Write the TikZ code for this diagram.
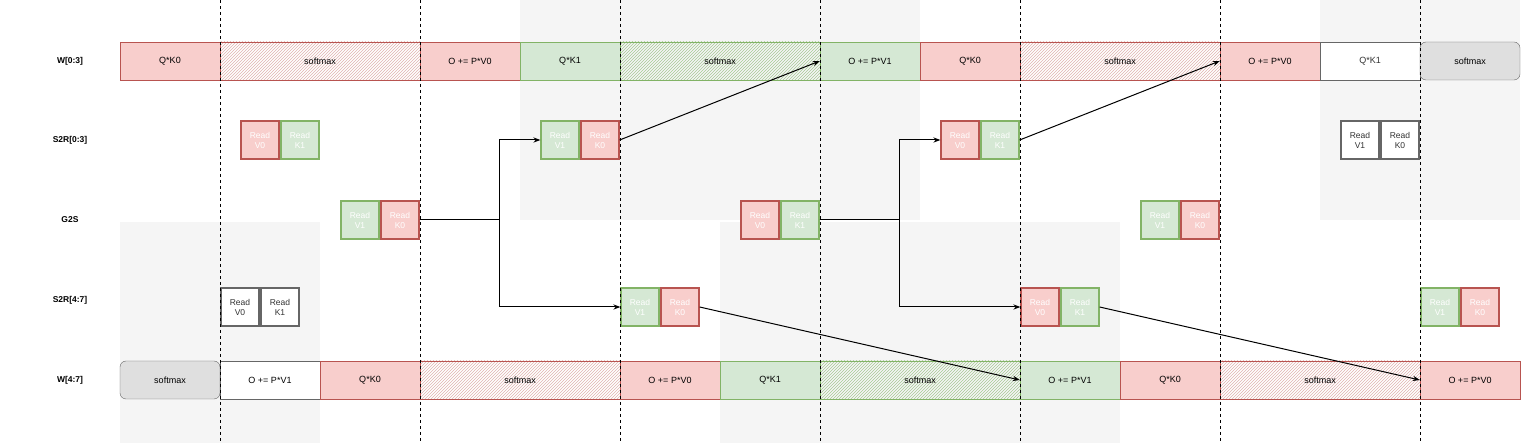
\documentclass[tikz,border=0pt]{standalone}
\usepackage{fontspec}
\setmainfont{Liberation Sans}
\usetikzlibrary{patterns,arrows.meta}
\definecolor{rf}{HTML}{F8CECC}\definecolor{rs}{HTML}{B85450}
\definecolor{gf}{HTML}{D5E8D4}\definecolor{gs}{HTML}{82B366}
\definecolor{bgs}{HTML}{F5F5F5}\definecolor{gys}{HTML}{666666}
\begin{document}
\begin{tikzpicture}[x=1pt,y=-1pt,font=\fontsize{9}{10.5}\selectfont,
 seg/.style={draw,minimum height=38pt,inner sep=0pt,text=black},
 red/.style={seg,fill=rf,draw=rs,minimum width=100pt},
 grn/.style={seg,fill=gf,draw=gs,minimum width=100pt},
 wht/.style={seg,fill=white,draw=gys,minimum width=100pt},
 hr/.style={seg,draw=rs,minimum width=200pt,pattern=north east lines,pattern color=rs!45},
 hg/.style={seg,draw=gs,minimum width=200pt,pattern=north east lines,pattern color=gs!70},
 hw/.style={seg,draw=gys,minimum width=100pt,rounded corners=6pt,fill=gray!25},
 sb/.style={draw,line width=1.3pt,minimum size=38pt,inner sep=0pt,align=center,text=white,font=\fontsize{8.5}{10}\selectfont},
 sr/.style={sb,fill=rf,draw=rs},
 sg/.style={sb,fill=gf,draw=gs},
 sw/.style={sb,fill=white,draw=gys,text=black!80},
 lab/.style={font=\fontsize{8.5}{10}\selectfont\bfseries},
 arr/.style={-{Stealth[length=7pt]},line width=1pt}]
\useasboundingbox (0,0) rectangle (1527,443);
% gray backgrounds
\fill[bgs] (520,0) rectangle (920,220);
\fill[bgs] (1320,0) rectangle (1520,220);
\fill[bgs] (120,222) rectangle (320,443);
\fill[bgs] (720,222) rectangle (1120,443);
% labels
\node[lab] (l1) at (70,61) {W[0:3]};
\node[lab] (l2) at (70,140) {S2R[0:3]};
\node[lab] (l3) at (70,220) {G2S};
\node[lab] (l4) at (70,300) {S2R[4:7]};
\node[lab] (l5) at (70,380) {W[4:7]};
% top row
\node[red] (t1) at (170,61) {Q*K0};
\node[hr] (t2) at (320,61) {softmax};
\node[red] (t3) at (470,61) {O += P*V0};
\node[grn] (t4) at (570,61) {Q*K1};
\node[hg] (t5) at (720,61) {softmax};
\node[grn] (t6) at (870,61) {O += P*V1};
\node[red] (t7) at (970,61) {Q*K0};
\node[hr] (t8) at (1120,61) {softmax};
\node[red] (t9) at (1270,61) {O += P*V0};
\node[wht,text=black!80] (t10) at (1370,61) {Q*K1};
\node[hw] (t11) at (1470,61) {softmax};
% bottom row
\node[hw] (b1) at (170,380) {softmax};
\node[wht] (b2) at (270,380) {O += P*V1};
\node[red] (b3) at (370,380) {Q*K0};
\node[hr] (b4) at (520,380) {softmax};
\node[red] (b5) at (670,380) {O += P*V0};
\node[grn] (b6) at (770,380) {Q*K1};
\node[hg] (b7) at (920,380) {softmax};
\node[grn] (b8) at (1070,380) {O += P*V1};
\node[red] (b9) at (1170,380) {Q*K0};
\node[hr] (b10) at (1320,380) {softmax};
\node[red] (b11) at (1470,380) {O += P*V0};
% S2R[0:3]
\node[sr] (a1v) at (260,140) {Read\\V0};
\node[sg] (a1k) at (300,140) {Read\\K1};
\node[sg] (a2v) at (560,140) {Read\\V1};
\node[sr] (a2k) at (600,140) {Read\\K0};
\node[sr] (a3v) at (960,140) {Read\\V0};
\node[sg] (a3k) at (1000,140) {Read\\K1};
\node[sw] (a4v) at (1360,140) {Read\\V1};
\node[sw] (a4k) at (1400,140) {Read\\K0};
% G2S
\node[sg] (g1v) at (360,220) {Read\\V1};
\node[sr] (g1k) at (400,220) {Read\\K0};
\node[sr] (g2v) at (760,220) {Read\\V0};
\node[sg] (g2k) at (800,220) {Read\\K1};
\node[sg] (g3v) at (1160,220) {Read\\V1};
\node[sr] (g3k) at (1200,220) {Read\\K0};
% S2R[4:7]
\node[sw] (c1v) at (240,307) {Read\\V0};
\node[sw] (c1k) at (280,307) {Read\\K1};
\node[sg] (c2v) at (640,307) {Read\\V1};
\node[sr] (c2k) at (680,307) {Read\\K0};
\node[sr] (c3v) at (1040,307) {Read\\V0};
\node[sg] (c3k) at (1080,307) {Read\\K1};
\node[sg] (c4v) at (1440,307) {Read\\V1};
\node[sr] (c4k) at (1480,307) {Read\\K0};
% dashed lines
\foreach \x in {220,420,620,820,1020,1220,1420}
  \draw[dashed,line width=1pt] (\x,0) -- (\x,443);
% arrows
\draw[arr] (g1k.east) -- ++(80,0) |- (a2v.west);
\draw[arr] (g1k.east) -- ++(80,0) |- (c2v.west);
\draw[arr] (g2k.east) -- ++(80,0) |- (a3v.west);
\draw[arr] (g2k.east) -- ++(80,0) |- (c3v.west);
\draw[arr] (a2k.east) -- (t6.west);
\draw[arr] (a3k.east) -- (t9.west);
\draw[arr] (c2k.east) -- (b8.west);
\draw[arr] (c3k.east) -- (b11.west);
\end{tikzpicture}
\end{document}
